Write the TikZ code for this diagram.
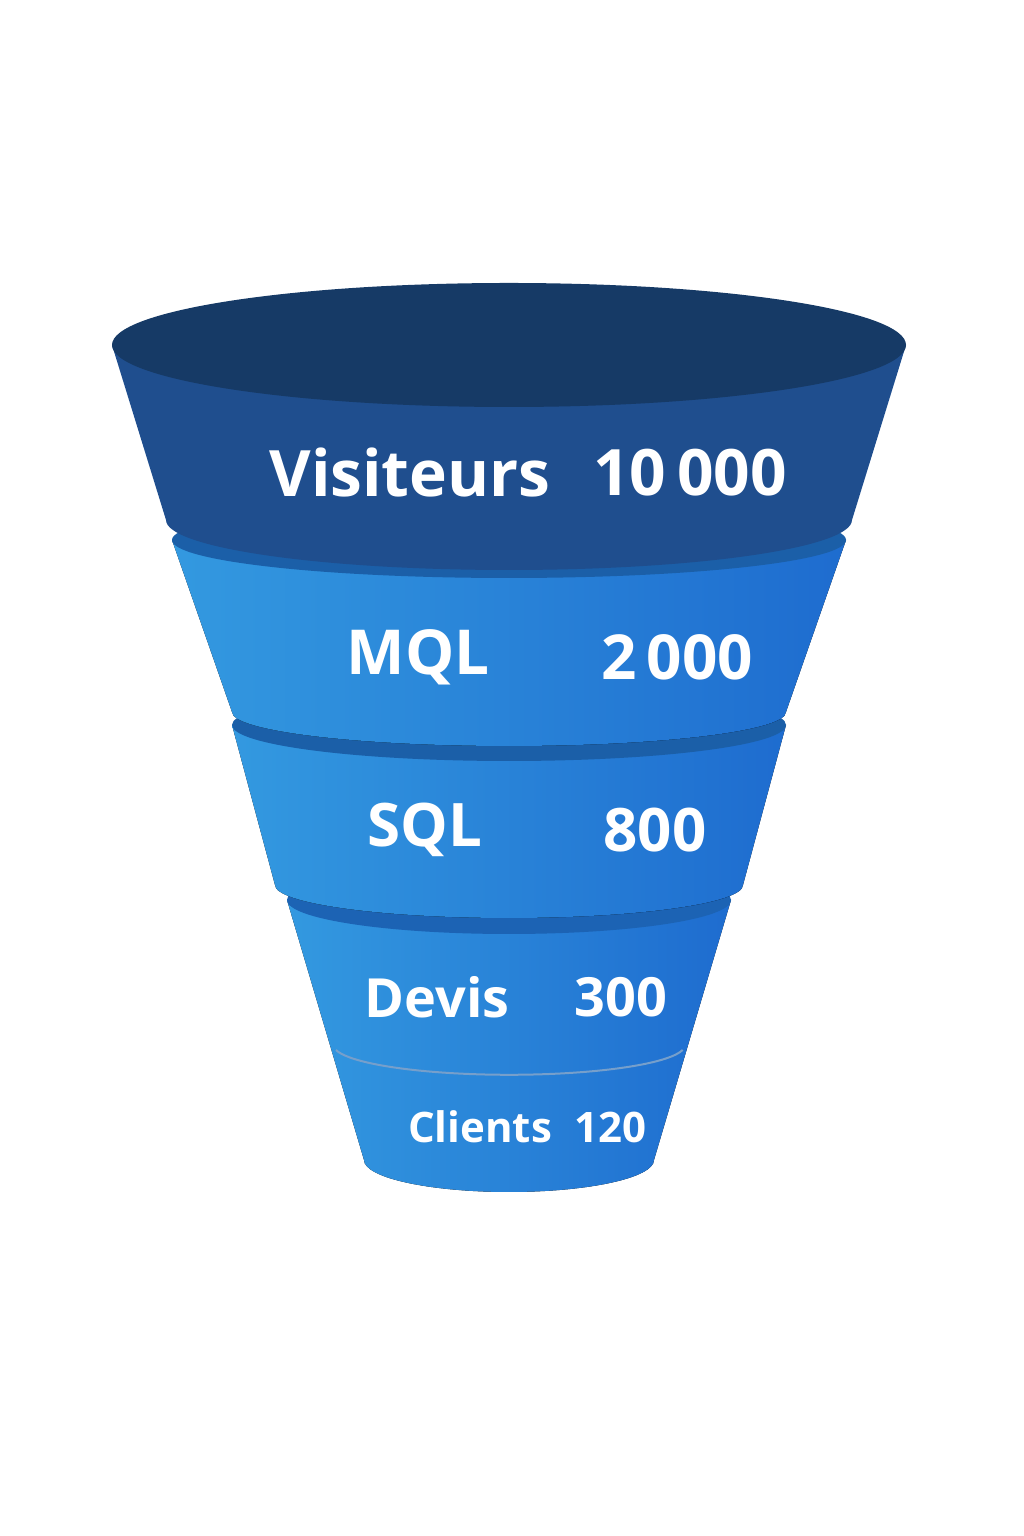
\documentclass[tikz,border=0pt]{standalone}
\usepackage{fontspec}
\setmainfont{Open Sans}
\usetikzlibrary{positioning}
\definecolor{navytop}{HTML}{163A66}
\definecolor{navybody}{HTML}{1F4E8E}
\definecolor{bluel}{HTML}{3399E0}
\definecolor{bluer}{HTML}{1E6CCF}
\definecolor{bandblue}{HTML}{1B5FA8}
\tikzset{
	lbl/.style={text=white,font=\bfseries,inner sep=0pt},
	body/.style={left color=bluel,right color=bluer,draw=none},
}
% segment: top y, top rx, bottom y, bottom rx, bottom ry
\newcommand\funnelseg[6][body]{%
	\fill[#1] (509-#3,#2) -- (509-#5,#4) arc[start angle=180,end angle=360,x radius=#5,y radius=#6] -- (509+#3,#2) -- cycle;
}
\begin{document}
\begin{tikzpicture}[x=1pt,y=1pt]
	\useasboundingbox (0,0) rectangle (1024,1536);
	% bottom to top
	\funnelseg{636}{222}{376}{145}{32}
	\fill[bandblue!70!bluer] (509,636) ellipse[x radius=222,y radius=34];
	\draw[bandblue!60,line width=2pt] (336,486) arc[start angle=190,end angle=350,x radius=176,y radius=30];
	\funnelseg{811}{277}{651}{234}{33}
	\fill[bandblue] (509,811) ellipse[x radius=277,y radius=36];
	\funnelseg{996}{337}{824}{277}{34}
	\fill[bandblue] (509,996) ellipse[x radius=337,y radius=38];
	\funnelseg[fill=navybody]{1191}{397}{1016}{343}{50}
	\fill[navytop] (509,1191) ellipse[x radius=397,y radius=62];
	% labels
	\node[lbl,font=\bfseries\fontsize{64}{64}\selectfont] (visit) at (410,1063) {Visiteurs};
	\node[lbl,font=\bfseries\fontsize{64}{64}\selectfont] (visitn) at (690,1063) {10\,000};
	\node[lbl,font=\bfseries\fontsize{62}{62}\selectfont] (mql) at (418,879) {MQL};
	\node[lbl,font=\bfseries\fontsize{62}{62}\selectfont] (mqln) at (677,879) {2\,000};
	\node[lbl,font=\bfseries\fontsize{60}{60}\selectfont] (sql) at (425,706) {SQL};
	\node[lbl,font=\bfseries\fontsize{60}{60}\selectfont] (sqln) at (655,706) {800};
	\node[lbl,font=\bfseries\fontsize{54}{54}\selectfont] (devis) at (437,539) {Devis};
	\node[lbl,font=\bfseries\fontsize{54}{54}\selectfont] (devisn) at (621,539) {300};
	\node[lbl,font=\bfseries\fontsize{42}{42}\selectfont] (client) at (480,409) {Clients};
	\node[lbl,font=\bfseries\fontsize{42}{42}\selectfont] (clientn) at (610,409) {120};
\end{tikzpicture}
\end{document}
